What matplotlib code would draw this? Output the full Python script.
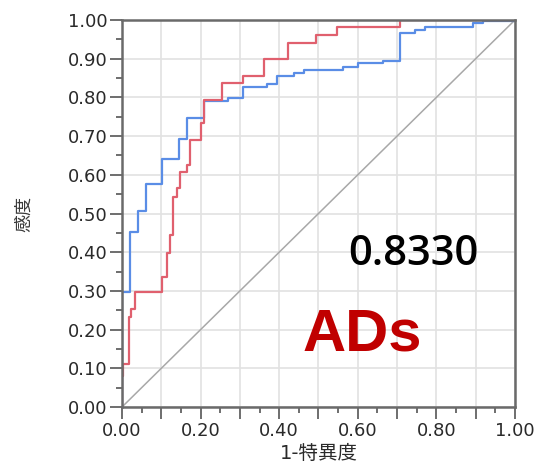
import numpy as np
import matplotlib.pyplot as plt
from matplotlib.ticker import MultipleLocator

plt.rcParams['font.family'] = ['DejaVu Sans', 'Noto Sans CJK JP']

# ROC curve vertices (1-specificity, sensitivity): go right to x, then up to y
red_fpr = [0.0, 0.003, 0.017, 0.023, 0.033, 0.103, 0.115, 0.122, 0.130, 0.139,
           0.147, 0.166, 0.173, 0.202, 0.208, 0.254, 0.309, 0.361, 0.423, 0.494,
           0.546, 0.707, 1.0]
red_tpr = [0.08, 0.11, 0.233, 0.253, 0.296, 0.337, 0.399, 0.444, 0.542, 0.565,
           0.608, 0.625, 0.690, 0.733, 0.793, 0.836, 0.856, 0.899, 0.940, 0.961,
           0.981, 1.0, 1.0]

blue_fpr = [0.0, 0.020, 0.041, 0.062, 0.103, 0.145, 0.166, 0.209, 0.270, 0.309,
            0.368, 0.394, 0.437, 0.462, 0.563, 0.601, 0.665, 0.707, 0.745, 0.771,
            0.894, 0.918, 1.0]
blue_tpr = [0.296, 0.453, 0.507, 0.576, 0.640, 0.692, 0.746, 0.791, 0.798, 0.826,
            0.834, 0.854, 0.862, 0.871, 0.879, 0.888, 0.894, 0.966, 0.974, 0.983,
            0.991, 0.997, 1.0]

auc_text = "0.8330"
group_text = "ADs"

fig = plt.figure(figsize=(5.36, 4.68), dpi=100)
ax = fig.add_axes([0.2276, 0.1303, 0.7332, 0.8270])

ax.plot([0, 1], [0, 1], color='#a8a8a8', lw=1.1, zorder=1)
ax.step([0] + blue_fpr, [0] + blue_tpr, where='post', color='#5a8de6', lw=1.6, zorder=2)
ax.step([0] + red_fpr, [0] + red_tpr, where='post', color='#e0606e', lw=1.6, zorder=2)

ticks = np.arange(0, 1.01, 0.1)
ax.set_xlim(0, 1)
ax.set_ylim(0, 1)
ax.set_xticks(ticks)
ax.set_xticklabels(["%.2f" % v if i % 2 == 0 else "" for i, v in enumerate(ticks)])
ax.set_yticks(ticks)
ax.set_yticklabels(["%.2f" % v for v in ticks])
ax.xaxis.set_minor_locator(MultipleLocator(0.05))
ax.yaxis.set_minor_locator(MultipleLocator(0.05))

ax.grid(True, which='major', color='#e2e2e2', lw=1.2, zorder=0)
ax.set_axisbelow(True)
ax.tick_params(which='major', length=8.5, width=1.2, color='#555555', labelsize=13,
               labelcolor='#2a2a2a', pad=2)
ax.tick_params(which='minor', length=4.3, width=1.2, color='#555555')
for s in ax.spines.values():
    s.set_color('#6a6a6a')
    s.set_linewidth(1.8)

ax.set_xlabel("1-特異度", fontsize=14, labelpad=3, color='#2a2a2a')
ax.set_ylabel("感度", fontsize=13, color='#3a3a3a')
ax.yaxis.set_label_coords(-0.226, 0.5)

ax.text(0.575, 0.367, auc_text, fontsize=30, family='Open Sans', color='black',
        fontweight='semibold')
ax.text(0.46, 0.147, group_text, fontsize=43, family='Liberation Sans', color='#c00000',
        fontweight='bold')

fig.savefig("out.png", dpi=100)
